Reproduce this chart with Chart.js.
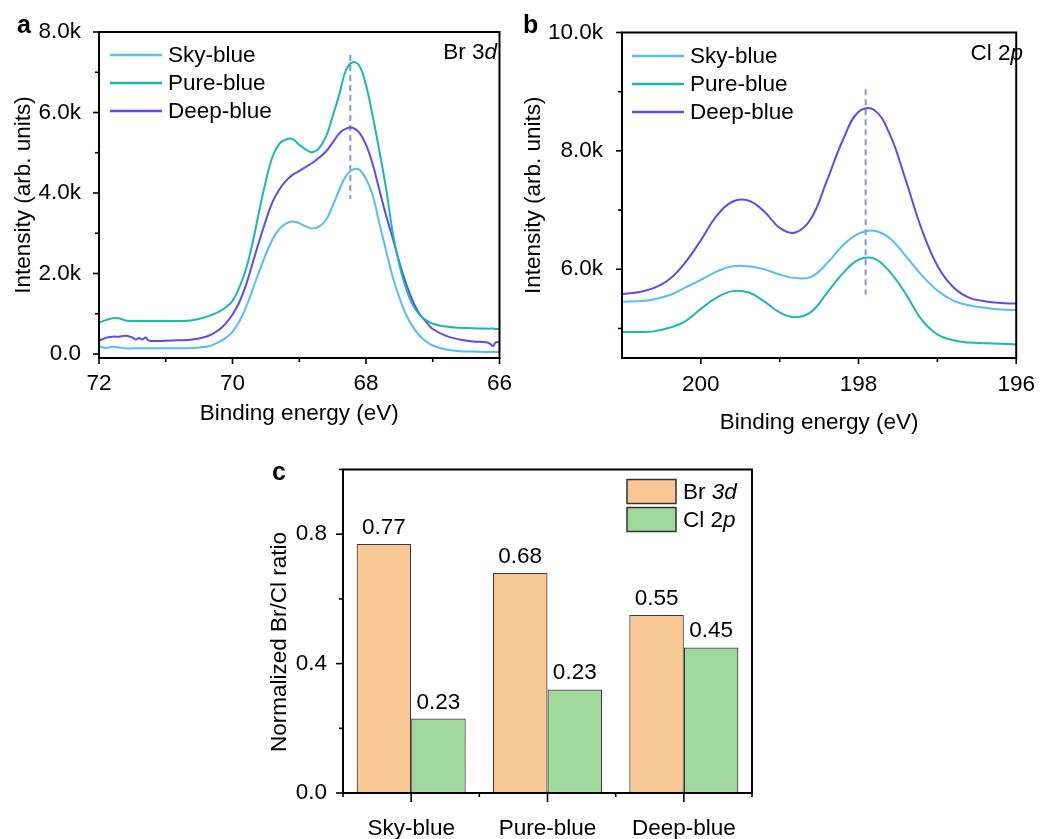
<!DOCTYPE html>
<html>
<head>
<meta charset="utf-8">
<script src="https://cdn.jsdelivr.net/npm/chart.js@4.4.1/dist/chart.umd.min.js"></script>
<style>
  html, body { margin: 0; padding: 0; background: #fff; }
  #page { position: relative; width: 1048px; height: 839px; overflow: hidden; background: #fff; }
  .panel { position: absolute; }
</style>
</head>
<body>
<div id="page">
  <div class="panel" style="left:0;top:0"><canvas id="chart-a" width="524" height="440"></canvas></div>
  <div class="panel" style="left:510px;top:0"><canvas id="chart-b" width="538" height="440"></canvas></div>
  <div class="panel" style="left:250px;top:440px"><canvas id="chart-c" width="550" height="399"></canvas></div>
</div>
<script>
// --- Data: panel a (Br 3d), intensity in thousands ---
const seriesNames = ['Sky-blue', 'Pure-blue', 'Deep-blue'];
const energyA = [72.0, 71.9, 71.8, 71.7, 71.6, 71.5, 71.45, 71.4, 71.35, 71.3, 71.25,
  71.0, 70.8, 70.6, 70.4, 70.3, 70.2, 70.1,
  70.0, 69.9, 69.8, 69.7, 69.6, 69.5, 69.4, 69.3, 69.2, 69.1,
  69.0, 68.9, 68.8, 68.7, 68.6, 68.5, 68.4, 68.3, 68.2, 68.1,
  68.0, 67.9, 67.8, 67.7, 67.6, 67.5, 67.4, 67.3, 67.2, 67.1, 67.0,
  66.8, 66.6, 66.4, 66.2, 66.14, 66.1, 66.06, 66.0];
const skyA = [0.19, 0.15, 0.18, 0.16, 0.14, 0.14, 0.14, 0.14, 0.14, 0.14, 0.14,
  0.14, 0.14, 0.15, 0.18, 0.22, 0.30, 0.40,
  0.55, 0.80, 1.15, 1.60, 2.05, 2.48, 2.85, 3.10, 3.24, 3.29,
  3.25, 3.17, 3.12, 3.17, 3.33, 3.68, 4.08, 4.42, 4.58, 4.58,
  4.35, 3.95, 3.25, 2.58, 1.92, 1.40, 0.98, 0.68, 0.46, 0.31, 0.21,
  0.11, 0.07, 0.06, 0.05, 0.05, 0.05, 0.05, 0.05];
const pureA = [0.78, 0.84, 0.89, 0.89, 0.83, 0.82, 0.82, 0.82, 0.82, 0.82, 0.82,
  0.82, 0.82, 0.84, 0.92, 0.98, 1.05, 1.16,
  1.32, 1.65, 2.10, 2.75, 3.55, 4.30, 4.90, 5.22, 5.33, 5.34,
  5.20, 5.08, 5.01, 5.12, 5.40, 5.90, 6.45, 7.05, 7.25, 7.16,
  6.68, 5.92, 5.05, 4.12, 3.02, 2.22, 1.62, 1.22, 0.98, 0.84, 0.75,
  0.68, 0.65, 0.64, 0.63, 0.63, 0.63, 0.62, 0.62];
const deepA = [0.33, 0.40, 0.43, 0.43, 0.45, 0.41, 0.36, 0.40, 0.36, 0.41, 0.33,
  0.33, 0.34, 0.36, 0.43, 0.50, 0.60, 0.76,
  0.98, 1.28, 1.70, 2.25, 2.80, 3.32, 3.78, 4.08, 4.30, 4.45,
  4.55, 4.65, 4.75, 4.88, 5.03, 5.25, 5.48, 5.60, 5.62, 5.50,
  5.20, 4.72, 4.08, 3.45, 2.88, 2.28, 1.75, 1.32, 1.00, 0.80, 0.62,
  0.45, 0.36, 0.31, 0.29, 0.25, 0.19, 0.28, 0.30];
const peakA = 68.235;
const dashA = [7.43, 3.85];
const xMajorA = [72, 70, 68, 66];
const xLabelsA = ['72', '70', '68', '66'];
const xMinorA = [71, 69, 67];
const yMajorA = [0, 2, 4, 6, 8];
const yLabelsA = ['0.0', '2.0k', '4.0k', '6.0k', '8.0k'];
const yMinorA = [1, 3, 5, 7];

// --- Data: panel b (Cl 2p), intensity in thousands ---
const energyB = [201, 200.8, 200.6, 200.4, 200.2, 200.0, 199.8, 199.6, 199.4, 199.2,
  199.0, 198.8, 198.6, 198.4, 198.2, 198.0, 197.8, 197.6, 197.4, 197.2,
  197.0, 196.8, 196.6, 196.4, 196.2, 196.0];
const skyB = [5.45, 5.46, 5.49, 5.56, 5.69, 5.82, 5.96, 6.05, 6.05, 6.00,
  5.91, 5.85, 5.87, 6.10, 6.40, 6.60, 6.65, 6.52, 6.22, 5.90,
  5.64, 5.47, 5.39, 5.35, 5.32, 5.31];
const pureB = [4.94, 4.94, 4.95, 5.01, 5.12, 5.33, 5.52, 5.63, 5.61, 5.46,
  5.27, 5.19, 5.28, 5.60, 5.93, 6.16, 6.18, 5.95, 5.58, 5.15,
  4.90, 4.80, 4.76, 4.75, 4.74, 4.73];
const deepB = [5.58, 5.61, 5.68, 5.83, 6.11, 6.49, 6.90, 7.14, 7.16, 6.98,
  6.70, 6.62, 6.86, 7.50, 8.18, 8.66, 8.69, 8.27, 7.50, 6.68,
  6.06, 5.70, 5.52, 5.46, 5.43, 5.42];
const peakB = 197.91;
const dashB = [9.04, 5.57];
const xMajorB = [200, 198, 196];
const xLabelsB = ['200', '198', '196'];
const xMinorB = [199, 197];
const yMajorB = [6, 8, 10];
const yLabelsB = ['6.0k', '8.0k', '10.0k'];
const yMinorB = [5, 7, 9];

// --- Data: panel c (bar chart) ---
const categories = ['Sky-blue', 'Pure-blue', 'Deep-blue'];
const brValues = [0.77, 0.68, 0.55];
const clValues = [0.23, 0.32, 0.45];
const brLabels = ['0.77', '0.68', '0.55'];
const clLabels = ['0.23', '0.23', '0.45'];
const yMajorC = [0, 0.4, 0.8];
const yLabelsC = ['0.0', '0.4', '0.8'];
const yMinorC = [0.2, 0.6, 1.0];
const xMajorC = [0, 1, 2];
const xMinorC = [-0.5, 0.5, 1.5, 2.5];

// --- Styles ---
const FAMILY = "'Liberation Sans', Arial, sans-serif";
const FONT_SIZE = 22.5;
const FONT = FONT_SIZE + "px " + FAMILY;
const colors = ['#55bdf8', '#1ab8b3', '#5a4cf2'];
const dashColor = '#8a8ee6';
const brColor = '#f9c794';
const clColor = '#9ed99b';

Chart.defaults.font.family = FAMILY;
Chart.defaults.font.size = FONT_SIZE;
Chart.defaults.color = '#000';

// --- Decorations per chart (frame, tick marks, legends, notes) ---
const decor = {
  'chart-a': {
    panel: { text: 'a', x: 17, y: 33 },
    ticks: [
      { axis: 'x', values: xMajorA, len: 6 }, { axis: 'x', values: xMinorA, len: 4 },
      { axis: 'y', values: yMajorA, len: 6 }, { axis: 'y', values: yMinorA, len: 4 }
    ],
    legend: { x0: 110, x1: 162, tx: 168, ys: [55, 83, 111] },
    note: { parts: [['Br 3', false], ['d', true]], x: 497, y: 53 }
  },
  'chart-b': {
    panel: { text: 'b', x: 13, y: 33 },
    ticks: [
      { axis: 'x', values: xMajorB, len: 6 }, { axis: 'x', values: xMinorB, len: 4 },
      { axis: 'y', values: yMajorB, len: 6 }, { axis: 'y', values: yMinorB, len: 4 }
    ],
    legend: { x0: 122, x1: 174, tx: 180, ys: [56, 84, 112] },
    note: { parts: [['Cl 2', false], ['p', true]], x: 513, y: 54 }
  },
  'chart-c': {
    panel: { text: 'c', x: 22, y: 40 },
    ticks: [
      { axis: 'x', values: xMajorC, len: 9 }, { axis: 'x', values: xMinorC, len: 4 },
      { axis: 'y', values: yMajorC, len: 7 }, { axis: 'y', values: yMinorC, len: 4 }
    ],
    boxLegend: { x: 377, w: 49, h: 24, tx: 433, ys: [51.5, 79.5],
      parts: [[['Br ', false], ['3d', true]], [['Cl 2', false], ['p', true]]] },
    yTitle: { text: 'Normalized Br/Cl ratio', x: 30, y: 202 },
    barLabels: [brLabels, clLabels]
  }
};

function drawRich(ctx, parts, x, y, align) {
  const widths = parts.map(([t, it]) => { ctx.font = (it ? 'italic ' : '') + FONT; return ctx.measureText(t).width; });
  const total = widths.reduce((a, b) => a + b, 0);
  let cx = align === 'right' ? x - total : x;
  ctx.textAlign = 'left';
  ctx.textBaseline = 'middle';
  parts.forEach(([t, it], i) => {
    ctx.font = (it ? 'italic ' : '') + FONT;
    ctx.fillText(t, cx, y);
    cx += widths[i];
  });
}

const decorPlugin = {
  id: 'decor',
  afterDraw(chart) {
    const d = decor[chart.canvas.id];
    if (!d) return;
    const ctx = chart.ctx;
    const area = chart.chartArea;
    ctx.save();
    ctx.strokeStyle = '#000';
    ctx.fillStyle = '#000';
    ctx.lineWidth = 2;
    ctx.strokeRect(area.left, area.top, area.right - area.left, area.bottom - area.top);

    // tick marks, outward
    ctx.lineWidth = 1.6;
    d.ticks.forEach(t => {
      const scale = chart.scales[t.axis];
      t.values.forEach(v => {
        const p = scale.getPixelForValue(v);
        ctx.beginPath();
        if (t.axis === 'x') { ctx.moveTo(p, area.bottom); ctx.lineTo(p, area.bottom + t.len); }
        else { ctx.moveTo(area.left, p); ctx.lineTo(area.left - t.len, p); }
        ctx.stroke();
      });
    });

    // line legend
    if (d.legend) {
      const L = d.legend;
      seriesNames.forEach((name, i) => {
        const ds = chart.data.datasets[i];
        ctx.strokeStyle = ds.borderColor;
        ctx.lineWidth = 2.5;
        ctx.beginPath();
        ctx.moveTo(L.x0, L.ys[i]);
        ctx.lineTo(L.x1, L.ys[i]);
        ctx.stroke();
        drawRich(ctx, [[ds.label, false]], L.tx, L.ys[i] + 1, 'left');
      });
    }

    // box legend for bars
    if (d.boxLegend) {
      const B = d.boxLegend;
      chart.data.datasets.forEach((ds, i) => {
        ctx.fillStyle = ds.backgroundColor;
        ctx.fillRect(B.x, B.ys[i] - B.h / 2, B.w, B.h);
        ctx.strokeStyle = '#333';
        ctx.lineWidth = 1.5;
        ctx.strokeRect(B.x, B.ys[i] - B.h / 2, B.w, B.h);
        ctx.fillStyle = '#000';
        drawRich(ctx, B.parts[i], B.tx, B.ys[i] + 1, 'left');
      });
    }

    // value labels above bars
    if (d.barLabels) {
      ctx.font = FONT;
      ctx.textAlign = 'center';
      ctx.textBaseline = 'alphabetic';
      d.barLabels.forEach((labels, di) => {
        chart.getDatasetMeta(di).data.forEach((bar, i) => {
          ctx.fillText(labels[i], bar.x, bar.y - 10);
        });
      });
    }

    if (d.yTitle) {
      ctx.save();
      ctx.translate(d.yTitle.x, d.yTitle.y);
      ctx.rotate(-Math.PI / 2);
      ctx.font = FONT;
      ctx.textAlign = 'center';
      ctx.textBaseline = 'middle';
      ctx.fillText(d.yTitle.text, 0, 0);
      ctx.restore();
    }

    if (d.note) {
      ctx.fillStyle = '#000';
      drawRich(ctx, d.note.parts, d.note.x, d.note.y, 'right');
    }

    ctx.fillStyle = '#000';
    ctx.font = 'bold 25px ' + FAMILY;
    ctx.textAlign = 'left';
    ctx.textBaseline = 'alphabetic';
    ctx.fillText(d.panel.text, d.panel.x, d.panel.y);
    ctx.restore();
  }
};

function lineSet(label, energy, values, color) {
  return {
    label: label,
    data: energy.map((e, i) => ({ x: e, y: values[i] })),
    borderColor: color,
    borderWidth: 2,
    pointRadius: 0,
    tension: 0.4,
    fill: false
  };
}

function guideSet(x, ends) {
  return {
    label: 'guide',
    data: [{ x: x, y: ends[0] }, { x: x, y: ends[1] }],
    borderColor: dashColor,
    borderWidth: 2,
    borderDash: [6, 4],
    pointRadius: 0
  };
}

function spectrumChart(id, opt) {
  return new Chart(document.getElementById(id), {
    type: 'line',
    data: {
      datasets: [
        lineSet(seriesNames[0], opt.energy, opt.series[0], colors[0]),
        lineSet(seriesNames[1], opt.energy, opt.series[1], colors[1]),
        lineSet(seriesNames[2], opt.energy, opt.series[2], colors[2]),
        guideSet(opt.peak, opt.dash)
      ]
    },
    options: {
      responsive: false,
      animation: false,
      layout: { padding: opt.padding },
      plugins: { legend: { display: false }, tooltip: { enabled: false } },
      scales: {
        x: {
          type: 'linear', reverse: true, min: opt.xRange[0], max: opt.xRange[1],
          afterBuildTicks: s => { s.ticks = opt.xMajor.map(v => ({ value: v })); },
          afterFit: s => { s.height = opt.xHeight; },
          grid: { display: false, drawTicks: false },
          border: { display: false },
          ticks: { padding: opt.xPad, autoSkip: false, maxRotation: 0, callback: (v, i) => opt.xLabels[i] },
          title: { display: true, text: 'Binding energy (eV)', padding: { top: 0, bottom: opt.xTitlePad } }
        },
        y: {
          min: opt.yRange[0], max: opt.yRange[1],
          afterBuildTicks: s => { s.ticks = opt.yMajor.map(v => ({ value: v })); },
          afterFit: s => { s.width = opt.yWidth; },
          grid: { display: false, drawTicks: false },
          border: { display: false },
          ticks: { padding: opt.yPad, autoSkip: false, callback: (v, i) => opt.yLabels[i] },
          title: { display: true, text: 'Intensity (arb. units)', padding: { top: 10, bottom: 0 } }
        }
      }
    },
    plugins: [decorPlugin]
  });
}

spectrumChart('chart-a', {
  energy: energyA, series: [skyA, pureA, deepA], peak: peakA, dash: dashA,
  xRange: [66, 72], yRange: [-0.1, 8],
  xMajor: xMajorA, xLabels: xLabelsA, yMajor: yMajorA, yLabels: yLabelsA,
  padding: { left: 0, top: 32, right: 17, bottom: 0 },
  xHeight: 82, yWidth: 99, xPad: 12, yPad: 18, xTitlePad: 13
});

spectrumChart('chart-b', {
  energy: energyB, series: [skyB, pureB, deepB], peak: peakB, dash: dashB,
  xRange: [196, 201], yRange: [4.5, 10],
  xMajor: xMajorB, xLabels: xLabelsB, yMajor: yMajorB, yLabels: yLabelsB,
  padding: { left: 0, top: 32, right: 18, bottom: 0 },
  xHeight: 82, yWidth: 112, xPad: 13, yPad: 19, xTitlePad: 4
});

new Chart(document.getElementById('chart-c'), {
  type: 'bar',
  data: {
    labels: categories,
    datasets: [
      { label: 'Br 3d', data: brValues, backgroundColor: brColor, borderColor: '#3a3a3a', borderWidth: 1.2, borderSkipped: false },
      { label: 'Cl 2p', data: clValues, backgroundColor: clColor, borderColor: '#3a3a3a', borderWidth: 1.2, borderSkipped: false }
    ]
  },
  options: {
    responsive: false,
    animation: false,
    categoryPercentage: 0.8,
    barPercentage: 1.0,
    layout: { padding: { left: 0, top: 27, right: 48, bottom: 0 } },
    plugins: { legend: { display: false }, tooltip: { enabled: false } },
    scales: {
      x: {
        afterFit: s => { s.height = 46; },
        grid: { display: false, drawTicks: false },
        border: { display: false },
        ticks: { padding: 22, autoSkip: false, maxRotation: 0 }
      },
      y: {
        min: 0, max: 1.0,
        afterBuildTicks: s => { s.ticks = yMajorC.map(v => ({ value: v })); },
        afterFit: s => { s.width = 93; },
        grid: { display: false, drawTicks: false },
        border: { display: false },
        ticks: { padding: 16, autoSkip: false, callback: (v, i) => yLabelsC[i] }
      }
    }
  },
  plugins: [decorPlugin]
});
</script>
</body>
</html>
